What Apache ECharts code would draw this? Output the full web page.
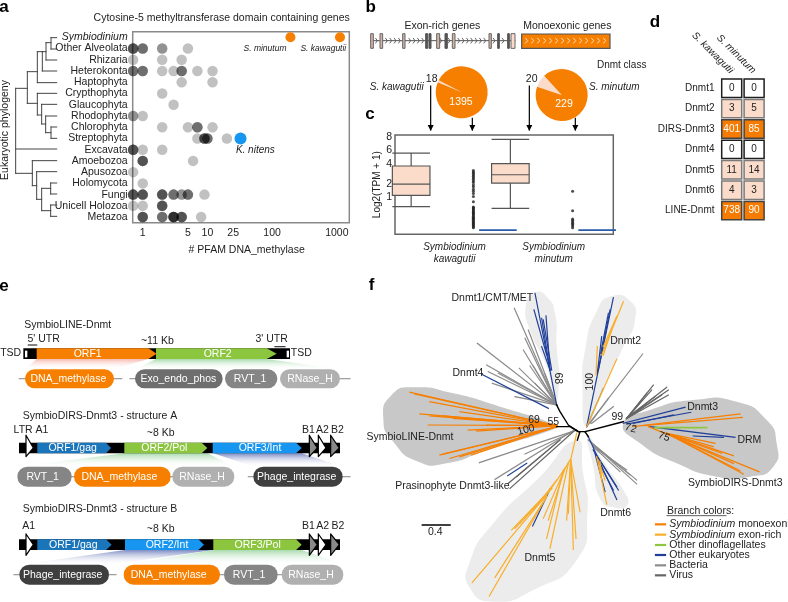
<!DOCTYPE html>
<html><head><meta charset="utf-8">
<style>html,body{margin:0;padding:0;background:#fff}#c{width:788px;height:602px}</style>
<script src="https://cdn.jsdelivr.net/npm/echarts@6/dist/echarts.min.js"></script>
</head><body><div id="c"></div>
<script>
const FONT='"Liberation Sans",Arial,sans-serif', TXT='#222';
/* ---------- panel a data ---------- */
const taxa=['Symbiodinium','Other Alveolata','Rhizaria','Heterokonta','Haptophyta','Crypthophyta','Glaucophyta','Rhodophyta','Chlorophyta','Streptophyta','Excavata','Amoebozoa','Apusozoa','Holomycota','Fungi','Unicell Holozoa','Metazoa'];
const hitsAlveolata=[.71,.71,.71,.71,1,1,1,2,2,5];
const hitsRhizaria=[.71,2,4];
const hitsHeterokonta=[.71,.71,.71,1,1,1,2,3,4,4,4,7,12];
const hitsHaptophyta=[4,12];
const hitsCrypto=[2];
const hitsGlauco=[3];
const hitsRhodo=[.71,.71,1];
const hitsChloro=[2,5,7,7,7,12];
const hitsStrepto=[7,9,9,9,9,10,10,10,20];
const hitsExcavata=[.71,.71,.71,.71,1,2];
const hitsAmoebozoa=[1,1,1,1,6];
const hitsApusozoa=[.71];
const hitsHolomycota=[1];
const hitsFungi=[.71,.71,.71,.71,1,1,1,1,2,2,2,2,3,3,3,4,4,5,5,5,9];
const hitsHolozoa=[.71,1,2,2,2,2];
const hitsMetazoa=[1,1,1,1,2,2,2,3,3,3,3,3,3,4,4,4,4,8];
const hitsSymbio=[192,1120];
const hitsNitens=[32.5];
const xTicksA=[1,5,10,25,100,1000];
const xMinorA=[2.2,7,16,50,300];
/* ---------- panel c data ---------- */
const yTicksC=[1,2,4,6,8];
const yMinorC=[.3,1.45,3,5,7];
const boxExonRich=[[0.81,.51,1.125,1.97,3.82,5.5],[1.81,.44,2.06,2.85,4.1,7.66]];
const boxMono=[[1.19,0,0,0,0,0],[2.19,0,0,0,0,0]];
const outKawagutii=[3.3,3.15,3,2.85,2.7,2.55,2.4,2.25,2.1,1.9,1.75,1.55,1.4,1.25,1.05,.75,.5,.46,.42,.38,.34,.3,.27,.24,.21,.18,.15,.13,.11,.09,.07,.055,.04,.03,.02,.01,.005];
const outMinutum=[1.4,.35,.114,.09,.066,.045,.03,.015,.005];
/* ---------- panel b data ---------- */
const pieKawagutii=[18,1395];
const pieMinutum=[20,229];
/* ---------- panel d data ---------- */
const dnmtClasses=['Dnmt1','Dnmt2','DIRS-Dnmt3','Dnmt4','Dnmt5','Dnmt6','LINE-Dnmt'];
const dnmtSpecies=['S. kawagutii','S. minutum'];
const countsKawagutii=[0,3,401,0,11,4,738];
const countsMinutum=[0,5,85,0,14,3,90];
/* ---------- panel a phylogeny (segments, flat polyline) ---------- */
const treeDark=[[47,265,47,520],[47,447,170,447],[47,265,82,265],[82,215,82,310],[82,215,112,215],[112,155,112,248],[112,248,170,248],[112,155,127,155],[127,155,127,213],[127,213,170,213],[127,155,138,155],[138,128,138,180],[138,180,170,180],[138,128,153,128],[153,113,153,147],[153,113,170,113],[153,147,170,147],[82,310,112,310],[112,280,112,345],[112,280,170,280],[112,345,125,345],[125,313,125,372],[125,313,170,313],[125,372,137,372],[137,348,137,398],[137,348,170,348],[137,398,153,398],[153,381,153,415],[153,381,170,381],[153,415,170,415],[47,520,97,520],[97,482,97,557],[97,482,170,482],[97,557,110,557],[110,515,110,598],[110,515,170,515],[110,598,125,598],[125,565,125,632],[125,565,152,565],[152,549,152,582],[152,549,170,549],[152,582,170,582],[125,632,152,632],[152,615,152,649],[152,615,170,615],[152,649,170,649]];
/* ---------- panel b gene model ---------- */
const exonsTan=[[47,55],[75,83],[143,150],[245,254],[292,300],[402,409]];
const exonsDark=[[212,218],[222,228],[270,277],[428,433],[458,463]];
const exonsLight=[[468,480]];
const intronArrows=[65,95,108,121,134,165,178,191,204,258,283,312,325,338,351,364,377,390,418,445];
const monoArrows=[515,533,551,569,587,605,623,641,659,677,695,713,731,749];
const geneArrows=[[227,258,227,390],[352,355,352,390],[523,258,523,390],[661,355,661,390]];
/* ---------- panel f tree ---------- */
const blobsLight=[[525,38,498,75,510,150,560,260,585,365,597,300,590,200,585,100,560,50],[750,50,712,90,677,200,668,330,680,440,722,340,790,200,825,120,810,62],[650,480,540,590,400,730,328,850,330,925,400,965,520,930,650,840,682,700,668,570],[685,470,700,560,722,660,760,682,802,675,790,630,740,560]];
const blobsDark=[[160,322,95,345,70,415,100,485,175,545,260,550,380,510,590,445,590,435,420,380,280,340],[790,430,870,390,1000,360,1130,365,1220,420,1250,490,1240,560,1170,590,1070,590,950,550,840,490]];
const brBlack=[[590,375,600,395,625,435,655,455,675,455],[590,440,630,440,655,455],[675,455,790,425],[675,455,685,470],[660,455,652,480]];
const brBacteria=[[463,85,590,375],[352,190,590,375],[380,255,590,375],[385,275,590,375],[397,310,590,375],[415,280,590,375],[465,350,590,375],[490,210,590,375],[505,150,590,375],[510,258,590,375],[520,258,590,375],[478,265,590,375],[495,175,590,375],[525,310,590,375],[555,282,590,375],[848,222,680,440],[730,325,680,440],[745,355,690,430],[760,380,695,430],[358,548,650,450],[495,522,650,450],[405,598,640,452],[685,480,830,600],[685,480,830,612],[700,500,800,570],[700,500,780,575],[700,495,770,550],[700,495,810,585]];
const brVirus=[[800,415,880,315],[800,415,875,330],[800,415,920,322],[800,415,925,330],[800,415,925,345],[800,415,885,350],[800,415,860,340],[800,415,845,362],[800,415,905,345],[450,625,640,455],[445,610,600,480],[470,590,600,480]];
const brEukaryote=[[525,40,590,375],[522,90,560,225],[545,115,570,270],[550,120,575,270],[558,108,570,270],[545,200,570,270],[365,283,565,385],[760,53,680,440],[750,90,715,270],[745,100,722,220],[725,170,712,280],[790,430,975,382],[800,432,992,397],[820,430,940,405],[870,440,1125,472],[1000,468,1090,472],[518,738,570,628],[443,587,500,550],[685,470,770,658],[700,510,775,630],[700,510,770,620],[715,545,760,630],[705,520,735,635]];
const brMono=[[590,437,150,337],[590,437,165,342],[590,437,210,365],[590,437,180,402],[590,437,210,408],[590,437,250,408],[590,437,300,395],[590,437,205,435],[590,437,280,415],[590,437,325,450],[590,437,350,453],[590,437,380,435],[590,440,240,525],[590,440,270,535],[590,440,300,530],[590,440,335,525],[590,440,250,522],[820,440,1140,402],[850,437,1147,412],[865,440,1197,575],[920,460,1150,582],[920,460,1140,572],[920,460,1120,550],[920,460,1120,527],[920,460,1060,500],[920,460,1065,490],[920,460,1085,520]];
const brExon=[[650,460,633,535,615,565,560,645],[560,645,337,907],[560,650,388,948],[560,650,405,892],[575,625,455,750],[575,625,480,730],[575,625,465,745],[590,600,520,690],[625,550,570,805],[610,570,560,775],[615,565,565,720],[615,565,550,715],[632,540,620,720],[632,540,640,808],[632,540,648,775],[632,540,660,695],[632,540,625,700],[790,65,725,225],[770,110,730,200],[755,150,730,225],[712,200,708,285],[770,238,680,440],[710,530,740,672],[720,545,725,600],[715,540,735,600]];
const brDino=[[885,443,1040,443]];

/* ---------- helpers ---------- */
const G={a:0,c:1,d:2,tree:3,b:4,e1:5,e2:6,f:7};
function pairs(r){const o=[];for(let i=0;i<r.length;i+=2)o.push([r[i],r[i+1]]);return o;}
function over(g,rows,render,z){return {type:'custom',xAxisIndex:g,yAxisIndex:g,clip:false,silent:true,z:z||3,
  data:rows.map((r,i)=>[i]),encode:{x:[],y:[]},renderItem:(p,api)=>render(rows[p.dataIndex],api,p.dataIndex)};}
function polyl(g,rows,color,w,z){return over(g,rows,(r,api)=>({type:'polyline',shape:{points:pairs(r).map(q=>api.coord(q))},style:{stroke:color,lineWidth:w,fill:null,lineCap:'square',lineJoin:'round'}}),z);}
function polyg(g,rows,fill,z,smooth){return over(g,rows,(r,api)=>({type:'polygon',shape:{points:pairs(r).map(q=>api.coord(q)),smooth:smooth||0},style:{fill:fill,stroke:null}}),z);}
function rect(g,rows,fill,stroke,lw,radius,z){return over(g,rows,(r,api)=>{const a=api.coord([r[0],r[1]]),b=api.coord([r[2],r[3]]);
  return {type:'rect',shape:{x:a[0],y:a[1],width:b[0]-a[0],height:b[1]-a[1],r:radius||0},style:{fill:fill,stroke:stroke,lineWidth:lw||0}};},z);}
function text(g,rows,size,o,z){o=o||{};return over(g,rows,(r,api)=>{const c=api.coord([r[1],r[2]]);
  return {type:'text',x:c[0],y:c[1],rotation:(r[3]||0)*Math.PI/180,style:{text:r[0],fill:o.color||TXT,fontFamily:FONT,fontSize:size,fontStyle:o.italic?'italic':'normal',fontWeight:o.bold?'bold':'normal',align:o.align||'center',verticalAlign:'middle',
    rich:{i:{fontStyle:'italic',fontFamily:FONT,fontSize:size,fill:o.color||TXT}, n:{fontFamily:FONT,fontSize:size,fill:o.color||TXT}}}};},z||6);}
const grad=c=>({type:'linear',x:0,y:0,x2:0,y2:1,colorStops:[{offset:0,color:c},{offset:1,color:'rgba(255,255,255,0)'}]});

/* ---------- panel a ---------- */
const lg=v=>Math.log10(v);
const allHits=[[],hitsAlveolata,hitsRhizaria,hitsHeterokonta,hitsHaptophyta,hitsCrypto,hitsGlauco,hitsRhodo,hitsChloro,hitsStrepto,hitsExcavata,hitsAmoebozoa,hitsApusozoa,hitsHolomycota,hitsFungi,hitsHolozoa,hitsMetazoa];
const greyPts=[];allHits.forEach((a,i)=>a.forEach(v=>greyPts.push([lg(v),taxa[i]])));

/* ---------- panel c ---------- */
const sq=Math.sqrt;
const tb=b=>[b[0],...b.slice(1).map(sq)];

/* ---------- panel d ---------- */
const cells=[];dnmtClasses.forEach((k,i)=>{cells.push([dnmtSpecies[0],k,countsKawagutii[i]]);cells.push([dnmtSpecies[1],k,countsMinutum[i]]);});

const axisFont={fontFamily:FONT,color:TXT};
const overlayGrids=[[0,0,360,280],[355,0,270,280],[0,280,360,160],[0,440,360,162],[360,280,428,322]];
const grid=[
 {left:132.7,top:31.7,width:216.6,height:191,show:true,borderColor:'#8a8a8a',borderWidth:1.5,backgroundColor:'#fff',z:1},
 {left:395,top:135,width:218.3,height:99.3,show:true,borderColor:'#666',borderWidth:1.5,backgroundColor:'#fff',z:1},
 {left:720.5,top:78,width:44.8,height:142.8,show:false},
 ...overlayGrids.map(g=>({left:g[0],top:g[1],width:g[2],height:g[3],show:false}))
];
const xAxis=[
 {type:'value',gridIndex:0,min:lg(.7),max:lg(1560),
  axisLine:{show:false},axisTick:{show:false,customValues:[...xTicksA,...xMinorA].map(lg)},
  splitLine:{show:true,lineStyle:{color:'#efefef',width:1}},
  axisLabel:{customValues:xTicksA.map(lg),formatter:v=>String(Math.round(Math.pow(10,v))),fontSize:10.5,margin:5,...axisFont,hideOverlap:false}},
 {type:'value',gridIndex:1,min:.4,max:2.6,
  axisLine:{show:false},axisTick:{show:false,customValues:[1,2]},splitLine:{show:true,lineStyle:{color:'#e8e8e8'}},
  axisLabel:{customValues:[1,2],formatter:v=>v==1?'Symbiodinium\nkawagutii':'Symbiodinium\nminutum',fontSize:10,fontStyle:'italic',lineHeight:12,margin:7,...axisFont}},
 {type:'category',gridIndex:2,position:'top',data:dnmtSpecies,axisLine:{show:false},axisTick:{show:false},
  axisLabel:{rotate:45,fontSize:10,fontStyle:'italic',margin:6,interval:0,...axisFont}},
 ...overlayGrids.map((g,i)=>({type:'value',gridIndex:3+i,min:0,max:g[2]*3,show:false}))
];
const yAxis=[
 {type:'category',gridIndex:0,inverse:true,data:taxa,axisLine:{show:false},axisTick:{show:false,alignWithLabel:true},
  splitLine:{show:true,alignWithLabel:true,lineStyle:{color:'#efefef'},interval:0},
  axisLabel:{interval:0,fontSize:10.5,margin:5,...axisFont,formatter:v=>v==='Symbiodinium'?'{i|'+v+'}':v,rich:{i:{fontStyle:'italic',fontSize:10.5,fontFamily:FONT,color:TXT}}}},
 {type:'value',gridIndex:1,min:-.128,max:2.9,name:'Log2(TPM + 1)',nameLocation:'middle',nameRotate:90,nameGap:11,
  nameTextStyle:{fontSize:10,fontFamily:FONT,color:TXT},
  axisLine:{show:false},axisTick:{show:false,customValues:[...yTicksC,...yMinorC].map(sq)},
  splitLine:{show:true,lineStyle:{color:'#eeeeee'}},
  axisLabel:{customValues:yTicksC.map(sq),formatter:v=>String(Math.round(v*v)),fontSize:10.5,margin:3,...axisFont}},
 {type:'category',gridIndex:2,inverse:true,data:dnmtClasses,axisLine:{show:false},axisTick:{show:false},
  axisLabel:{interval:0,fontSize:10,margin:6,...axisFont}},
 ...overlayGrids.map((g,i)=>({type:'value',gridIndex:3+i,min:0,max:g[3]*3,inverse:true,show:false}))
];
function cellStyle(v){return v===0?['#fff','#1e1e1e',TXT]:v<20?['#fbdccb','#7a7a7a',TXT]:['#f57c00','#444','#fff'];}

const arrowHead=(api,x,y)=>{const c=api.coord([x,y]);return {type:'polygon',shape:{points:[[c[0]-3,c[1]-5],[c[0]+3,c[1]-5],[c[0],c[1]+1]]},style:{fill:'#000'}};};

/* ---------- panel e geometry ---------- */
const T='#fff';
const pillOrange='#f77f00',pillDark='#3f3f3f',pillMid='#6e6e6e',pillRvt='#858585',pillLight='#b0b0b0';
const blueD='#1b75bb',blueB='#1696f0',green='#8cc63f';

function triangles(g,y0,y1,ym){return [
  polyg(g,[[78,y0,100,ym,78,y1]],'#fff',5),
  polyl(g,[[78,y0,100,ym,78,y1,78,y0]],'#000',1.2,5),
  polyg(g,[[928,y0,952,ym,928,y1],[992,y0,1018,ym,992,y1]],'#8a8a8a',5),
  polyg(g,[[955,y0,978,ym,955,y1]],'#fff',5),
  polyl(g,[[928,y0,952,ym,928,y1,928,y0],[992,y0,1018,ym,992,y1,992,y0],[955,y0,978,ym,955,y1,955,y0]],'#000',1.2,5)
];}

const series=[
 /* a */
 {type:'scatter',xAxisIndex:0,yAxisIndex:0,data:greyPts,symbolSize:10.5,itemStyle:{color:'rgba(0,0,0,.3)',borderWidth:0},z:3},
 {type:'scatter',xAxisIndex:0,yAxisIndex:0,data:hitsSymbio.map(v=>[lg(v),taxa[0]]),symbolSize:10,itemStyle:{color:'#f77f00',opacity:1},z:4},
 {type:'scatter',xAxisIndex:0,yAxisIndex:0,data:hitsNitens.map(v=>[lg(v),taxa[9]]),symbolSize:12,itemStyle:{color:'#1696f0',opacity:1},z:4},
 polyl(G.tree,treeDark,'#444',1),
 text(G.tree,[['Cytosine-5 methyltransferase domain containing genes',665,54],['# PFAM DNA_methylase',740,749]],10.5),
 text(G.tree,[['Eukaryotic phylogeny',15,390,90]],10.5),
 text(G.tree,[['S. minutum',795,145],['S. kawagutii',970,145]],8.5,{italic:true}),
 text(G.tree,[['K. nitens',766,451]],10,{italic:true}),
 text(G.tree,[['a',12,22]],17,{bold:true,color:'#000'}),
 /* b */
 polyl(G.b,[[47,122,480,122]],'#555',1,3),
 rect(G.b,exonsTan.map(e=>[e[0],101,e[1],145]),'#d3b3a5','#666',1,0,4),
 rect(G.b,exonsDark.map(e=>[e[0],101,e[1],145]),'#555','#555',1,0,4),
 rect(G.b,exonsLight.map(e=>[e[0],101,e[1],145]),'#fbdccb','#666',1,0,4),
 polyl(G.b,intronArrows.map(x=>[x-3,115,x+2,122,x-3,129]),'#555',.9,4),
 rect(G.b,[[500,102,765,145]],'#f77f00','#555',1.2,0,4),
 polyl(G.b,monoArrows.map(x=>[x-3,115,x+3,122,x-3,129]),'#ffe9d6',.9,5),
 {type:'pie',center:[461.7,92.3],radius:26,startAngle:157,data:pieKawagutii.map((v,i)=>({value:v,name:i?'Monoexonic':'Exon-rich',itemStyle:{color:i?'#f77f00':'#fbdccb'}})),label:{show:false},labelLine:{show:false},silent:true,animation:false,z:3},
 {type:'pie',center:[561.7,95],radius:26,startAngle:161.5,data:pieMinutum.map((v,i)=>({value:v,name:i?'Monoexonic':'Exon-rich',itemStyle:{color:i?'#f77f00':'#fbdccb'}})),label:{show:false},labelLine:{show:false},silent:true,animation:false,z:3},
 text(G.b,[['Exon-rich genes',262,78],['Monoexonic genes',637,78],['18',230,238],['20',530,238]],10.5),
 text(G.b,[['S. kawagutii',125,263],['S. minutum',778,263]],10,{italic:true}),
 text(G.b,[['1395',318,305],['229',627,313]],10.5,{color:'#fff'}),
 polyl(G.b,geneArrows,'#000',1.2,7),
 over(G.b,geneArrows,(r,api)=>arrowHead(api,r[2],r[3]),7),
 text(G.b,[['b',47,22],['c',45,343]],17,{bold:true,color:'#000'}),
 /* c */
 {type:'boxplot',xAxisIndex:1,yAxisIndex:1,data:boxExonRich.map(tb),boxWidth:[37.6,37.6],itemStyle:{color:'#fbdccb',borderColor:'#555',borderWidth:1.2},z:3,animation:false},
 {type:'boxplot',xAxisIndex:1,yAxisIndex:1,data:boxMono.map(tb),boxWidth:[37.6,37.6],itemStyle:{color:'#fbdccb',borderColor:'#2a5caa',borderWidth:1.6},z:3,animation:false},
 {type:'scatter',xAxisIndex:1,yAxisIndex:1,data:outKawagutii.map(v=>[1.19,sq(v)]),symbolSize:3,itemStyle:{color:'#222'},z:2},
 {type:'scatter',xAxisIndex:1,yAxisIndex:1,data:outMinutum.map(v=>[2.19,sq(v)]),symbolSize:3,itemStyle:{color:'#222'},z:2},
 /* d */
 {type:'custom',xAxisIndex:2,yAxisIndex:2,data:cells,encode:{x:0,y:1},silent:true,z:3,renderItem:(p,api)=>{
   const c=api.coord([api.value(0),api.value(1)]),v=api.value(2),s=cellStyle(v);
   return {type:'group',children:[
     {type:'rect',shape:{x:c[0]-10,y:c[1]-9.2,width:20,height:18.4},style:{fill:s[0],stroke:s[1],lineWidth:1.5}},
     {type:'text',x:c[0],y:c[1],style:{text:String(v),fill:s[2],fontFamily:FONT,fontSize:10,align:'center',verticalAlign:'middle'}}]};
 }},
 text(G.b,[['d',900,67]],17,{bold:true,color:'#000'}),
 text(G.b,[['Dnmt class',800,197]],10),
 /* e1 */
 rect(G.e1,[[70,205,870,237]],'#000',null,0,0,3),
 polyg(G.e1,[[110,237,445,237,340,268,75,268]],grad('rgba(240,130,110,.55)'),2),
 polyg(G.e1,[[468,237,800,237,1020,268,405,268]],grad('rgba(120,200,130,.65)'),2),
 polyg(G.e1,[[110,205,445,205,470,221,445,237,110,237]],'#f77f00',4),
 polyg(G.e1,[[468,205,800,205,830,221,800,237,468,237]],green,4),
 rect(G.e1,[[75,212,82,232],[860,212,867,232]],'#fff',null,0,0,5),
 polyl(G.e1,[[85,195,110,195],[825,200,855,200]],'#333',1.2),
 polyl(G.e1,[[58,296,75,296],[342,296,365,296],[390,296,405,296],[1020,296,1050,296]],'#999',1.2,2),
 rect(G.e1,[[75,268,342,325]],pillOrange,null,0,10,4),
 rect(G.e1,[[405,268,668,325]],pillMid,null,0,10,4),
 rect(G.e1,[[675,268,832,325]],pillRvt,null,0,10,4),
 rect(G.e1,[[840,268,1020,325]],pillLight,null,0,10,4),
 text(G.e1,[['ORF1',263,221],['ORF2',653,221],['DNA_methylase',205,297],['Exo_endo_phos',535,297],['RVT_1',750,297],['RNase_H',930,297]],10.5,{color:'#fff'}),
 text(G.e1,[['SymbioLINE-Dnmt',203,135],['5\' UTR',131,178],['~11 Kb',472,182],['3\' UTR',815,178],['TSD',32,220],['TSD',904,220],['SymbioDIRS-Dnmt3 - structure A',300,408],['LTR A1',93,450],['~8 Kb',482,458],['B1',925,450],['A2',967,450],['B2',1012,450]],10.5),
 text(G.e1,[['e',12,18]],17,{bold:true,color:'#000'}),
 /* e2 structure A */
 rect(G.e2,[[57,8,1020,40]],'#000',null,0,0,3),
 polyg(G.e2,[[373,40,622,40,703,80,52,80]],grad('rgba(120,200,130,.65)'),2),
 polyg(G.e2,[[640,40,905,40,1028,80,760,80]],grad('rgba(70,90,170,.7)'),2),
 polyg(G.e2,[[112,8,318,8,333,24,318,40,112,40]],blueD,4),
 polyg(G.e2,[[373,8,605,8,622,24,605,40,373,40]],green,4),
 polyg(G.e2,[[638,8,888,8,905,24,888,40,638,40]],blueB,4),
 ...triangles(G.e2,-14,50,24),
 polyl(G.e2,[[215,110,222,110],[512,110,517,110],[745,110,760,110],[1028,110,1050,110]],'#999',1.2,2),
 rect(G.e2,[[52,80,215,140]],pillRvt,null,0,10,4),
 rect(G.e2,[[222,80,512,140]],pillOrange,null,0,10,4),
 rect(G.e2,[[517,80,703,140]],pillLight,null,0,10,4),
 rect(G.e2,[[760,80,1028,140]],pillDark,null,0,10,4),
 text(G.e2,[['ORF1/gag',218,24],['ORF2/Pol',493,24],['ORF3/Int',780,24],['RVT_1',128,111],['DNA_methylase',358,111],['RNase_H',606,111],['Phage_integrase',890,111]],10.5,{color:'#fff'}),
 /* e2 structure B */
 rect(G.e2,[[57,298,1020,330]],'#000',null,0,0,3),
 polyg(G.e2,[[375,330,640,330,327,374,58,374]],grad('rgba(70,90,170,.7)'),2),
 polyg(G.e2,[[640,330,905,330,1030,374,371,374]],grad('rgba(120,200,130,.65)'),2),
 polyg(G.e2,[[112,298,318,298,335,314,318,330,112,330]],blueD,4),
 polyg(G.e2,[[375,298,595,298,612,314,595,330,375,330]],blueB,4),
 polyg(G.e2,[[640,298,888,298,905,314,888,330,640,330]],green,4),
 ...triangles(G.e2,282,346,314),
 polyl(G.e2,[[42,404,58,404],[327,404,348,404],[660,404,672,404],[833,404,845,404]],'#999',1.2,2),
 rect(G.e2,[[58,374,327,434]],pillDark,null,0,10,4),
 rect(G.e2,[[371,374,660,434]],pillOrange,null,0,10,4),
 rect(G.e2,[[672,374,833,434]],pillRvt,null,0,10,4),
 rect(G.e2,[[845,374,1030,434]],pillLight,null,0,10,4),
 text(G.e2,[['ORF1/gag',220,314],['ORF2/Int',501,314],['ORF3/Pol',773,314],['Phage_integrase',188,405],['DNA_methylase',506,405],['RVT_1',747,405],['RNase_H',933,405]],10.5,{color:'#fff'}),
 text(G.e2,[['SymbioDIRS-Dnmt3 - structure B',300,207],['A1',86,259],['~8 Kb',482,268],['B1',925,259],['A2',968,259],['B2',1014,259]],10.5),
 /* f */
 polyg(G.f,blobsLight,'#ececec',1,.6),
 polyg(G.f,blobsDark,'#c8c8c8',1,.6),
 polyl(G.f,brBacteria,'#8c8c8c',1.2,3),
 polyl(G.f,brVirus,'#666',1.2,3),
 polyl(G.f,brEukaryote,'#1f3f99',1.2,4),
 polyl(G.f,brMono,'#f77f00',1.2,4),
 polyl(G.f,brExon,'#f9ae2a',1.2,4),
 polyl(G.f,brDino,'#8dc63f',1.6,4),
 polyl(G.f,brBlack,'#000',1.4,5),
 text(G.f,[['Dnmt1/CMT/MET',397,55],['Dnmt2',797,182],['Dnmt4',324,278],['SymbioLINE-Dnmt',150,471],['Dnmt3',1028,380],['DRM',1168,479],['SymbioDIRS-Dnmt3',1126,609],['Prasinophyte Dnmt3-like',277,619],['Dnmt6',767,698],['Dnmt5',540,834],['0.4',226,755]],10.5),
 text(G.f,[['69',522,420],['55',580,427],['99',772,412]],10.5),
 text(G.f,[['68',595,295,-90]],10.5),
 text(G.f,[['100',690,305,90]],10.5),
 text(G.f,[['100',498,450,15]],10.5),
 text(G.f,[['72',812,445,-15]],10.5),
 text(G.f,[['75',912,470,-20]],10.5),
 polyl(G.f,[[187,735,270,735]],'#000',1.5),
 polyl(G.f,[[921,707,1098,707]],'#333',.8),
 text(G.f,[['Branch colors:',921,693],['{i|Symbiodinium}{n| monoexonic}',928,733],['{i|Symbiodinium}{n| exon-rich}',928,764],['Other dinoflagellates',928,795],['Other eukaryotes',928,825],['Bacteria',928,856],['Virus',928,886]],10.5,{align:'left'}),
 polyl(G.f,[[888,733,915,733]],'#f77f00',2.2),
 polyl(G.f,[[888,764,915,764]],'#f9ae2a',2.2),
 polyl(G.f,[[888,795,915,795]],'#8dc63f',2.2),
 polyl(G.f,[[888,825,915,825]],'#1f3f99',2.2),
 polyl(G.f,[[888,856,915,856]],'#8c8c8c',2.2),
 polyl(G.f,[[888,886,915,886]],'#666',2.2),
 text(G.f,[['f',35,15]],17,{bold:true,color:'#000'})
];
const chart=echarts.init(document.getElementById('c'));
chart.setOption({animation:false,backgroundColor:'#fff',textStyle:{fontFamily:FONT},grid,xAxis,yAxis,series});
</script></body></html>
